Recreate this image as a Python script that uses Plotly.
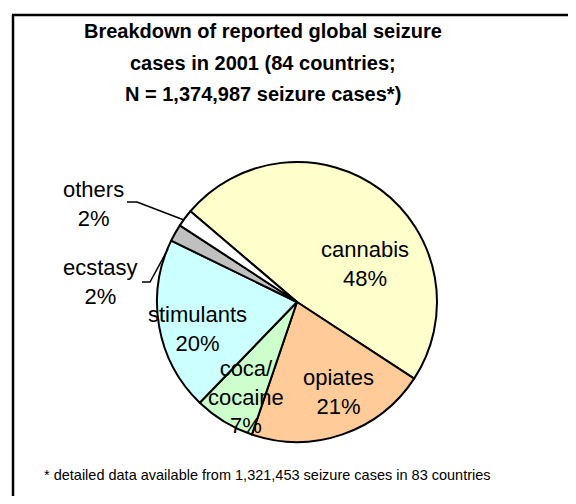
import plotly.graph_objects as go

# The page body has an 8px margin, so the figure is 560x488 and
# reference pixel positions are shifted by OFF.
W, H = 560, 488
OFF = 8

categories = ["cannabis", "opiates", "coca/<br>cocaine", "stimulants", "ecstasy", "others"]
shares = [48, 21, 7, 20, 2, 2]
colors = ["#FFFFCC", "#FFCC99", "#CCFFCC", "#CCFFFF", "#C0C0C0", "#FFFFFF"]

title_lines = ["Breakdown of reported global seizure",
               "cases in 2001 (84 countries;",
               "N = 1,374,987 seizure cases*)"]
footnote = "* detailed data available from 1,321,453 seizure cases in 83 countries"

# label anchor positions in reference pixels (centre of each label block)
label_pos = [(365, 264), (338, 392), (246, 397), (197, 329), (100, 282), (93, 204)]

def px(x):
    return (x - OFF) / W

def py(y):
    return 1 - (y - OFF) / H

FONT = "Liberation Sans, Arial"

fig = go.Figure()
fig.add_trace(go.Pie(
    labels=categories,
    values=shares,
    sort=False,
    direction="clockwise",
    rotation=-49.6,
    marker=dict(colors=colors, line=dict(color="black", width=2)),
    textinfo="none",
    hoverinfo="label+percent",
    showlegend=False,
    domain=dict(x=[px(157), px(437)], y=[py(442), py(162)]),
))

annotations = []
for name, val, (x, y) in zip(categories, shares, label_pos):
    annotations.append(dict(
        x=px(x), y=py(y), xref="paper", yref="paper",
        text=f"{name}<br>{val}%", showarrow=False,
        font=dict(family=FONT, size=22, color="black"),
        xanchor="center", yanchor="middle", align="center",
    ))

for i, line in enumerate(title_lines):
    annotations.append(dict(
        x=px(263), y=py(31 + i * 31.5), xref="paper", yref="paper",
        text=f"<b>{line}</b>", showarrow=False,
        font=dict(family=FONT, size=20, color="black"),
        xanchor="center", yanchor="middle",
    ))

annotations.append(dict(
    x=px(267), y=py(475), xref="paper", yref="paper",
    text=footnote, showarrow=False,
    font=dict(family=FONT, size=14.5, color="black"),
    xanchor="center", yanchor="middle",
))

shapes = [
    # frame: left and top edges
    dict(type="line", xref="paper", yref="paper",
         x0=px(13), y0=0, x1=px(13), y1=py(15),
         line=dict(color="black", width=2.5)),
    dict(type="line", xref="paper", yref="paper",
         x0=px(12), y0=py(15), x1=1, y1=py(15),
         line=dict(color="black", width=2.5)),
    dict(type="path", xref="paper", yref="paper",
         path=f"M {px(127)} {py(202)} L {px(137)} {py(202)} L {px(184)} {py(220)}",
         line=dict(color="black", width=1.5)),
    dict(type="path", xref="paper", yref="paper",
         path=f"M {px(142)} {py(282)} L {px(150)} {py(282)} L {px(168)} {py(249)}",
         line=dict(color="black", width=1.5)),
]

fig.update_layout(
    width=W, height=H,
    margin=dict(l=0, r=0, t=0, b=0),
    paper_bgcolor="white",
    plot_bgcolor="white",
    annotations=annotations,
    shapes=shapes,
)

fig.write_html("out.html")
